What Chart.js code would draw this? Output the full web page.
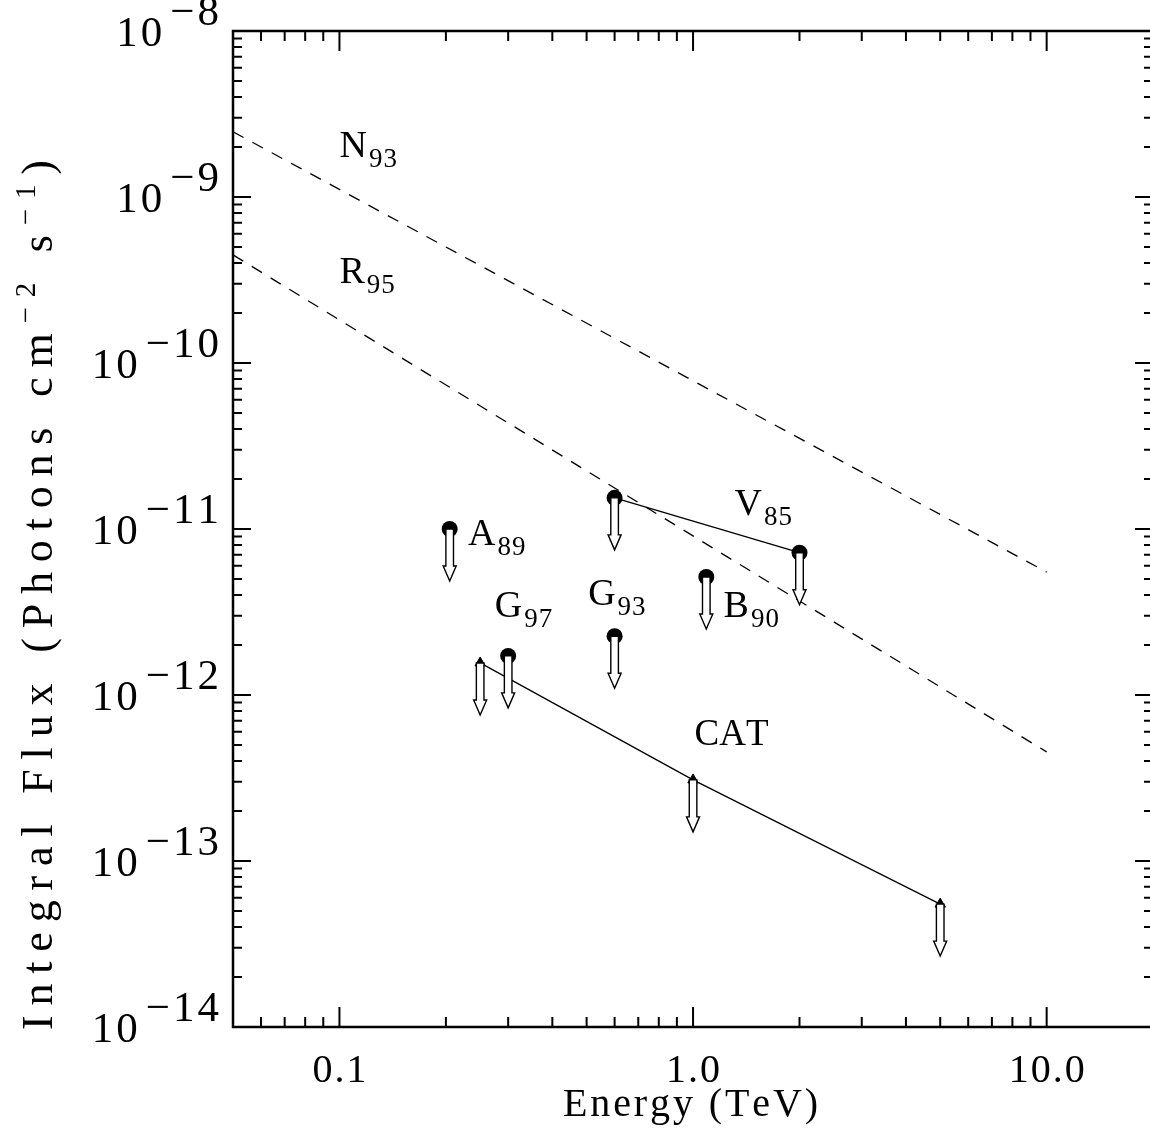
<!DOCTYPE html>
<html>
<head>
<meta charset="utf-8">
<script src="https://cdn.jsdelivr.net/npm/chart.js@4.4.1/dist/chart.umd.min.js"></script>
<style>
  html, body { margin: 0; padding: 0; background: #fff; overflow: hidden; }
  canvas { display: block; }
</style>
</head>
<body>
<canvas id="fluxChart" width="1150" height="1136" style="width:1150px;height:1136px"></canvas>
<script>
const FONT = '"Liberation Serif", "Times New Roman", serif';

// Model spectra (dashed), drawn across the plotted energy range
const modelEnergy = [0.05, 10];
const n93Flux = [2.47e-9, 5.5e-12];
const r95Flux = [4.48e-10, 4.54e-13];

// Upper limits joined by a line
const v85Energy = [0.6, 2.0];
const v85Flux = [1.54e-11, 7.2e-12];
const catEnergy = [0.25, 1.0, 5.0];
const catFlux = [1.56e-12, 3.08e-13, 5.5e-14];

// Single upper limits
const singleNames = ['A89', 'G97', 'G93', 'B90'];
const singleEnergy = [0.205, 0.30, 0.60, 1.09];
const singleFlux = [1.0e-11, 1.72e-12, 2.26e-12, 5.14e-12];

// Annotations: text, subscript, anchor (left edge / baseline) in data units
const labelText = ['N', 'R', 'V', 'A', 'G', 'G', 'B', 'CAT'];
const labelSub = ['93', '95', '85', '89', '97', '93', '90', ''];
const labelEnergy = [0.1, 0.1, 1.31, 0.231, 0.275, 0.505, 1.22, 1.01];
const labelFlux = [1.74e-9, 3.03e-10, 1.21e-11, 8.0e-12, 2.95e-12, 3.48e-12, 2.95e-12, 5.0e-13];

// Axes (the right border of the original box sits just past the picture edge)
const xMin = 0.05, xMax = 19.6;
const yMin = 1e-14, yMax = 1e-8;
const xTickValues = [0.1, 1, 10];
const xTickLabels = ['0.1', '1.0', '10.0'];
const yTickExponents = [-8, -9, -10, -11, -12, -13, -14];

function toPoints(xs, ys) {
    return xs.map((x, i) => ({ x: x, y: ys[i] }));
}

// draw a string char by char with extra spacing, returns width
function spaced(ctx, text, x, y, spacing, draw) {
    let w = 0;
    for (const ch of text) {
        if (draw) ctx.fillText(ch, x + w, y);
        w += ctx.measureText(ch).width + spacing;
    }
    return w - spacing;
}

// runs: [{t, size, dy}] drawn left to right on one baseline
function runs(ctx, parts, x, y, spacing, draw) {
    let w = 0;
    parts.forEach((p, i) => {
        ctx.font = p.size + 'px ' + FONT;
        w += spaced(ctx, p.t, x + w, y + (p.dy || 0), spacing, draw);
        if (i < parts.length - 1) w += spacing;
    });
    return w;
}

function upperArrow(ctx, x, y) {
    const sw = 3.8, shaft = 37, hw = 6.5, head = 15;
    ctx.beginPath();
    ctx.moveTo(x - sw, y);
    ctx.lineTo(x - sw, y + shaft);
    ctx.lineTo(x - hw, y + shaft);
    ctx.lineTo(x, y + shaft + head);
    ctx.lineTo(x + hw, y + shaft);
    ctx.lineTo(x + sw, y + shaft);
    ctx.lineTo(x + sw, y);
    ctx.closePath();
    ctx.fillStyle = '#fff';
    ctx.fill();
    ctx.strokeStyle = '#000';
    ctx.lineWidth = 1.4;
    ctx.stroke();
}

const framePlugin = {
    id: 'frame',
    afterDatasetsDraw(chart) {
        const ctx = chart.ctx;
        const xs = chart.scales.x, ys = chart.scales.y;
        ctx.save();
        // arrows under every upper limit
        const limits = toPoints(v85Energy, v85Flux)
            .concat(toPoints(catEnergy, catFlux))
            .concat(toPoints(singleEnergy, singleFlux));
        limits.forEach(p => upperArrow(ctx, xs.getPixelForValue(p.x), ys.getPixelForValue(p.y)));
        ctx.restore();
    },
    afterDraw(chart) {
        const ctx = chart.ctx;
        const a = chart.chartArea;
        const xs = chart.scales.x, ys = chart.scales.y;
        const rightEdge = a.right + 3;
        ctx.save();
        ctx.strokeStyle = '#000';
        ctx.fillStyle = '#000';

        // frame (left, top, bottom; right border is off the picture)
        ctx.lineWidth = 2.5;
        ctx.beginPath();
        ctx.moveTo(rightEdge, a.top);
        ctx.lineTo(a.left, a.top);
        ctx.lineTo(a.left, a.bottom);
        ctx.lineTo(rightEdge, a.bottom);
        ctx.stroke();

        // ticks
        ctx.lineWidth = 2;
        ctx.beginPath();
        for (let e = -2; e <= 1; e++) {
            for (let k = 1; k <= 9; k++) {
                const v = k * Math.pow(10, e);
                if (v < xMin || v > xMax) continue;
                const px = xs.getPixelForValue(v);
                const len = k === 1 ? 20 : 10;
                ctx.moveTo(px, a.bottom); ctx.lineTo(px, a.bottom - len);
                ctx.moveTo(px, a.top); ctx.lineTo(px, a.top + len);
            }
        }
        for (let e = -14; e <= -8; e++) {
            for (let k = 1; k <= 9; k++) {
                const v = k * Math.pow(10, e);
                if (v < yMin * 0.999 || v > yMax * 1.001) continue;
                const py = ys.getPixelForValue(v);
                const len = k === 1 ? 18 : 9;
                ctx.moveTo(a.left, py); ctx.lineTo(a.left + len, py);
                ctx.moveTo(rightEdge, py); ctx.lineTo(rightEdge - len, py);
            }
        }
        ctx.stroke();

        // x tick labels
        ctx.textBaseline = 'alphabetic';
        ctx.textAlign = 'left';
        xTickValues.forEach((v, i) => {
            const px = xs.getPixelForValue(v);
            const parts = [{ t: xTickLabels[i], size: 40 }];
            const w = runs(ctx, parts, 0, 0, 2, false);
            runs(ctx, parts, px - w / 2, 1082, 2, true);
        });

        // y tick labels 10^-n
        yTickExponents.forEach(e => {
            const py = ys.getPixelForValue(Math.pow(10, e));
            const expParts = [{ t: '\u2212' + (-e), size: 43 }];
            const ew = runs(ctx, expParts, 0, 0, 3, false);
            const ex = 219 - ew;
            runs(ctx, expParts, ex, py - 6, 3, true);
            const bParts = [{ t: '10', size: 43 }];
            const bw = runs(ctx, bParts, 0, 0, 3, false);
            runs(ctx, bParts, ex - 8 - bw, py + 15, 3, true);
        });

        // x title
        const xt = [{ t: 'Energy (TeV)', size: 40 }];
        const xw0 = runs(ctx, xt, 0, 0, 0, false);
        const xsp = (255 - xw0) / 11;
        runs(ctx, xt, 563, 1116, xsp, true);

        // y title (rotated)
        const yt = [
            { t: 'Integral Flux (Photons cm', size: 44 },
            { t: '\u22122', size: 29, dy: -17 },
            { t: ' s', size: 44 },
            { t: '\u22121', size: 29, dy: -17 },
            { t: ')', size: 44 }
        ];
        const nChars = yt.reduce((s, p) => s + [...p.t].length, 0);
        const yw0 = runs(ctx, yt, 0, 0, 0, false);
        const ysp = (870 - yw0) / (nChars - 1);
        ctx.save();
        ctx.translate(52, 1030);
        ctx.rotate(-Math.PI / 2);
        runs(ctx, yt, 0, 0, ysp, true);
        ctx.restore();

        // source annotations
        labelText.forEach((t, i) => {
            const px = xs.getPixelForValue(labelEnergy[i]);
            const py = ys.getPixelForValue(labelFlux[i]);
            ctx.font = (t === 'CAT' ? 37 : 38) + 'px ' + FONT;
            const w = spaced(ctx, t, px, py, 0, true);
            if (labelSub[i]) {
                ctx.font = '27px ' + FONT;
                spaced(ctx, labelSub[i], px + w + 2, py + 10, 1, true);
            }
        });
        ctx.restore();
    }
};

const lineStyle = { borderColor: '#000', borderWidth: 1.3, showLine: true, fill: false };

new Chart(document.getElementById('fluxChart'), {
    type: 'scatter',
    data: {
        datasets: [
            Object.assign({ label: 'N93', data: toPoints(modelEnergy, n93Flux), borderDash: [12, 10], pointRadius: 0 }, lineStyle),
            Object.assign({ label: 'R95', data: toPoints(modelEnergy, r95Flux), borderDash: [12, 10], pointRadius: 0 }, lineStyle),
            Object.assign({ label: 'V85', data: toPoints(v85Energy, v85Flux), pointRadius: 8, pointBackgroundColor: '#000', pointBorderWidth: 0 }, lineStyle),
            Object.assign({ label: 'CAT', data: toPoints(catEnergy, catFlux), pointStyle: 'triangle', pointRadius: 6, pointBackgroundColor: '#000', pointBorderWidth: 1 }, lineStyle),
            {
                label: 'single',
                data: toPoints(singleEnergy, singleFlux),
                showLine: false,
                pointRadius: 8,
                pointBackgroundColor: '#000',
                pointBorderWidth: 0
            }
        ]
    },
    options: {
        responsive: false,
        animation: false,
        devicePixelRatio: 1,
        layout: { autoPadding: false, padding: { left: 233, right: 0, top: 31, bottom: 109 } },
        plugins: { legend: { display: false }, tooltip: { enabled: false } },
        scales: {
            x: { type: 'logarithmic', min: xMin, max: xMax, display: false },
            y: { type: 'logarithmic', min: yMin, max: yMax, display: false }
        }
    },
    plugins: [framePlugin]
});
</script>
</body>
</html>
